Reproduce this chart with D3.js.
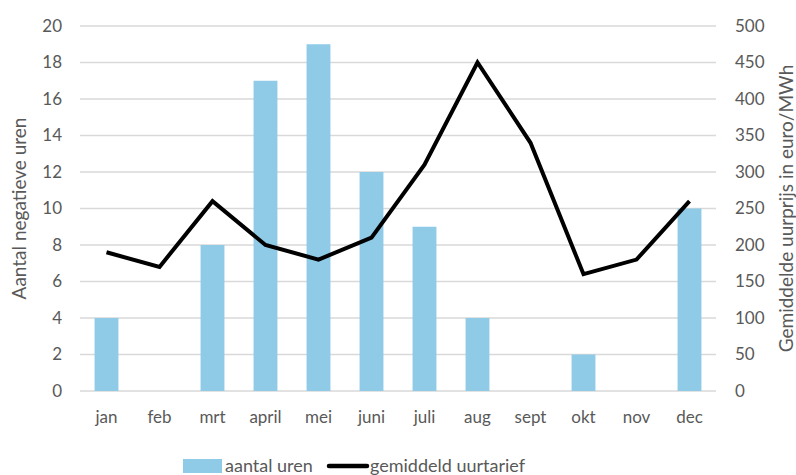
<!DOCTYPE html>
<html>
<head>
<meta charset="utf-8">
<script src="https://cdn.jsdelivr.net/npm/d3@7"></script>
<style>
  body { margin: 0; background: #fff; }
  svg { display: block; font-family: Lato, "Open Sans", sans-serif; }
</style>
</head>
<body>
<svg id="chart" width="796" height="475"></svg>
<script>
var months = ["jan", "feb", "mrt", "april", "mei", "juni", "juli", "aug", "sept", "okt", "nov", "dec"];
var uren = [4, 0, 8, 17, 19, 12, 9, 4, 0, 2, 0, 10];
var tarief = [190, 170, 260, 200, 180, 210, 310, 450, 340, 160, 180, 260];
var leftTicks = [0, 2, 4, 6, 8, 10, 12, 14, 16, 18, 20];
var rightTicks = [0, 50, 100, 150, 200, 250, 300, 350, 400, 450, 500];

var svg = d3.select("#chart");
var margin = {top: 26, right: 80, bottom: 84, left: 80};
var width = 796, height = 475;

var x = d3.scaleBand().domain(months)
  .range([margin.left, width - margin.right])
  .paddingInner(0.55).paddingOuter(0.275);
var y = d3.scaleLinear().domain([0, 20]).range([height - margin.bottom, margin.top]);
var y2 = d3.scaleLinear().domain([0, 500]).range([height - margin.bottom, margin.top]);

var textColor = "#595959";

// grid lines
svg.append("g")
  .selectAll("line")
  .data(leftTicks)
  .join("line")
  .attr("x1", margin.left)
  .attr("x2", width - margin.right)
  .attr("y1", function(d){ return y(d); })
  .attr("y2", function(d){ return y(d); })
  .attr("stroke", "#d9d9d9")
  .attr("stroke-width", 1.5);

// bars
svg.append("g")
  .selectAll("rect")
  .data(uren)
  .join("rect")
  .attr("x", function(d, i){ return x(months[i]); })
  .attr("width", x.bandwidth())
  .attr("y", function(d){ return y(d); })
  .attr("height", function(d){ return y(0) - y(d); })
  .attr("fill", "#8fcae7");

// line
var line = d3.line()
  .x(function(d, i){ return x(months[i]) + x.bandwidth()/2; })
  .y(function(d){ return y2(d); });

svg.append("path")
  .datum(tarief)
  .attr("d", line)
  .attr("fill", "none")
  .attr("stroke", "#000")
  .attr("stroke-width", 4)
  .attr("stroke-linejoin", "miter");

// axes
var leftAxis = svg.append("g")
  .attr("transform", "translate(" + margin.left + ",0)")
  .call(d3.axisLeft(y).tickValues(leftTicks).tickSize(0).tickPadding(18));
var rightAxis = svg.append("g")
  .attr("transform", "translate(" + (width - margin.right) + ",0)")
  .call(d3.axisRight(y2).tickValues(rightTicks).tickSize(0).tickPadding(19));
var bottomAxis = svg.append("g")
  .attr("transform", "translate(0," + (height - margin.bottom) + ")")
  .call(d3.axisBottom(x).tickSize(0).tickPadding(20));

[leftAxis, rightAxis, bottomAxis].forEach(function(a){
  a.select(".domain").remove();
  a.selectAll("text")
    .attr("fill", textColor)
    .style("font-size", "17px")
    .style("font-family", "Lato, 'Open Sans', sans-serif");
});

// axis titles
svg.append("text")
  .attr("transform", "translate(26," + ((margin.top + height - margin.bottom) / 2) + ") rotate(-90)")
  .attr("text-anchor", "middle")
  .attr("fill", textColor)
  .style("font-size", "19px")
  .text("Aantal negatieve uren");

svg.append("text")
  .attr("transform", "translate(793," + ((margin.top + height - margin.bottom) / 2) + ") rotate(-90)")
  .attr("text-anchor", "middle")
  .attr("fill", textColor)
  .style("font-size", "19px")
  .text("Gemiddelde uurprijs in euro/MWh");

// legend
var legend = svg.append("g").attr("transform", "translate(0,467)");
legend.append("rect")
  .attr("x", 183).attr("y", -8).attr("width", 39).attr("height", 14)
  .attr("fill", "#8fcae7");
legend.append("text")
  .attr("x", 225).attr("y", 5)
  .attr("fill", textColor)
  .style("font-size", "18px")
  .text("aantal uren");
legend.append("line")
  .attr("x1", 329).attr("x2", 367).attr("y1", -1).attr("y2", -1)
  .attr("stroke", "#000").attr("stroke-width", 4.5).attr("stroke-linecap", "round");
legend.append("text")
  .attr("x", 370).attr("y", 5)
  .attr("fill", textColor)
  .style("font-size", "18px")
  .text("gemiddeld uurtarief");
</script>
</body>
</html>
